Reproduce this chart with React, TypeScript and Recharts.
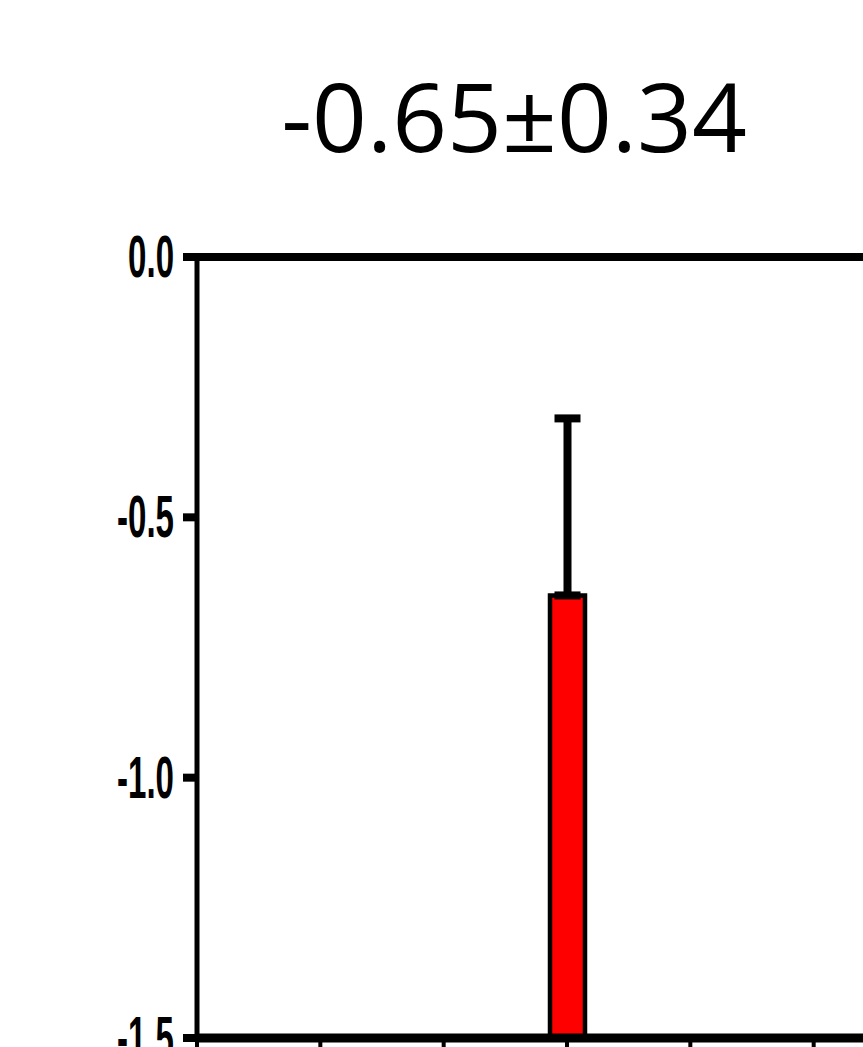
import React from 'react';
import { ComposedChart, Bar, ErrorBar, XAxis, YAxis, ReferenceLine } from 'recharts';

// Values
const positions = [3];
const means = [-0.65];
const sds = [0.34];
const yTicks = [0, -0.5, -1.0, -1.5];
const xTicks = [0, 1, 2, 3, 4, 5];
const titleText = '-0.65±0.34';

const yMin = -1.5;
const yMax = 0;

const data = positions.map((p, i) => ({
  pos: p,
  range: [yMin, means[i]],
  err: [0, sds[i]],
}));

const YTick = ({ x, y, payload }: any) => (
  <g transform={`translate(${x - 7},${y + 20}) scale(0.56,1)`}>
    <text
      x={0}
      y={0}
      textAnchor="end"
      fontFamily="'Liberation Sans', Arial, sans-serif"
      fontWeight="bold"
      fontSize={59}
      fill="#000"
    >
      {Number(payload.value).toFixed(1)}
    </text>
  </g>
);

const App: React.FC = () => {
  return (
    <div
      style={{
        position: 'absolute',
        left: 0,
        top: 0,
        width: 863,
        height: 1047,
        overflow: 'hidden',
        background: '#fff',
      }}
    >
      <div
        style={{
          position: 'absolute',
          left: 0,
          width: 1028,
          top: 50,
          textAlign: 'center',
          fontFamily: "'Open Sans', sans-serif",
          fontSize: 96,
          lineHeight: '130px',
          color: '#000',
        }}
      >
        {titleText}
      </div>
      <ComposedChart
        width={863}
        height={1060}
        data={data}
        margin={{ top: 257, right: 0, left: 0, bottom: 0 }}
      >
        <XAxis
          dataKey="pos"
          type="number"
          domain={[0, 5.4]}
          ticks={xTicks}
          allowDataOverflow
          height={22}
          tickSize={14}
          tick={() => <g />}
          axisLine={{ stroke: '#000', strokeWidth: 9 }}
          tickLine={{ stroke: '#000', strokeWidth: 4 }}
        />
        <YAxis
          type="number"
          domain={[yMin, yMax]}
          ticks={yTicks}
          allowDataOverflow
          width={197}
          tickSize={14}
          tick={<YTick />}
          axisLine={{ stroke: '#000', strokeWidth: 5 }}
          tickLine={{ stroke: '#000', strokeWidth: 8 }}
        />
        <ReferenceLine y={0} stroke="#000" strokeWidth={8} />
        <Bar
          dataKey="range"
          barSize={35}
          fill="#ff0000"
          stroke="#000"
          strokeWidth={4.5}
          isAnimationActive={false}
        >
          <ErrorBar dataKey="err" direction="y" width={13} stroke="#000" strokeWidth={8} />
        </Bar>
      </ComposedChart>
    </div>
  );
};

export default App;
